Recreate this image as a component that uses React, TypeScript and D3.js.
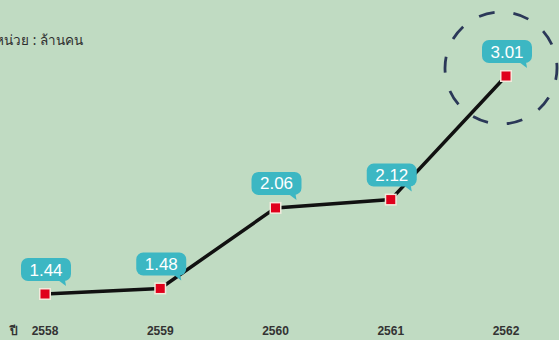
import React from "react";
import * as d3 from "d3";

const years = ["2558", "2559", "2560", "2561", "2562"];
const values = [1.44, 1.48, 2.06, 2.12, 3.01];
const valueLabels = ["1.44", "1.48", "2.06", "2.12", "3.01"];
const unitLabel = "หน่วย : ล้านคน";
const yearPrefix = "ปี";

const W = 559;
const H = 340;

export default function App() {
  const x = d3.scalePoint<string>().domain(years).range([45, 506]);
  const y = d3.scaleLinear().domain([1.44, 3.01]).range([294, 76]);
  const line = d3
    .line<number>()
    .x((_, i) => x(years[i]) as number)
    .y((d) => y(d));

  const lastX = x(years[years.length - 1]) as number;
  const lastY = y(values[values.length - 1]);

  return (
    <svg
      width={W}
      height={H}
      style={{ position: "absolute", left: 0, top: 0, display: "block" }}
      fontFamily="'Liberation Sans', Arial, sans-serif"
    >
      <rect x={0} y={0} width={W} height={H} fill="#c0dbc2" />
      <text
        x={83}
        y={45}
        textAnchor="end"
        fontSize={13.5}
        fill="#2e2e2e"
        fontFamily="'Noto Sans', 'DejaVu Sans', sans-serif"
      >
        {unitLabel}
      </text>
      <circle
        cx={lastX - 5}
        cy={lastY - 8}
        r={56}
        fill="none"
        stroke="#2b3858"
        strokeWidth={2.8}
        strokeDasharray="16 19"
        strokeDashoffset={4}
      />
      <path d={line(values) || ""} fill="none" stroke="#111" strokeWidth={3.5} />
      {values.map((v, i) => {
        const px = x(years[i]) as number;
        const py = y(v);
        const bw = 50;
        const bh = 23;
        const bx = px - bw / 2 + 1;
        const by = py - 36;
        return (
          <g key={years[i]}>
            <rect x={px - 6} y={py - 6} width={12} height={12} fill="#f2e9dc" />
            <rect x={px - 4.5} y={py - 4.5} width={9} height={9} fill="#e0001b" />
            <rect x={bx} y={by} width={bw} height={bh} rx={7} fill="#3cb7c3" />
            <path
              d={`M${bx + bw - 13},${by + bh - 1} L${bx + bw - 5},${by + bh + 5} L${bx + bw - 6},${by + bh - 1} Z`}
              fill="#3cb7c3"
            />
            <text
              x={bx + bw / 2}
              y={by + bh / 2 + 6}
              textAnchor="middle"
              fontSize={17}
              fill="#ffffff"
            >
              {valueLabels[i]}
            </text>
          </g>
        );
      })}
      <text
        x={14}
        y={335}
        textAnchor="middle"
        fontSize={12}
        fontWeight="bold"
        fill="#333"
        fontFamily="'Noto Sans', 'DejaVu Sans', sans-serif"
      >
        {yearPrefix}
      </text>
      {years.map((yr) => (
        <text
          key={yr}
          x={x(yr) as number}
          y={335}
          textAnchor="middle"
          fontSize={12}
          fontWeight="bold"
          fill="#333"
        >
          {yr}
        </text>
      ))}
    </svg>
  );
}
